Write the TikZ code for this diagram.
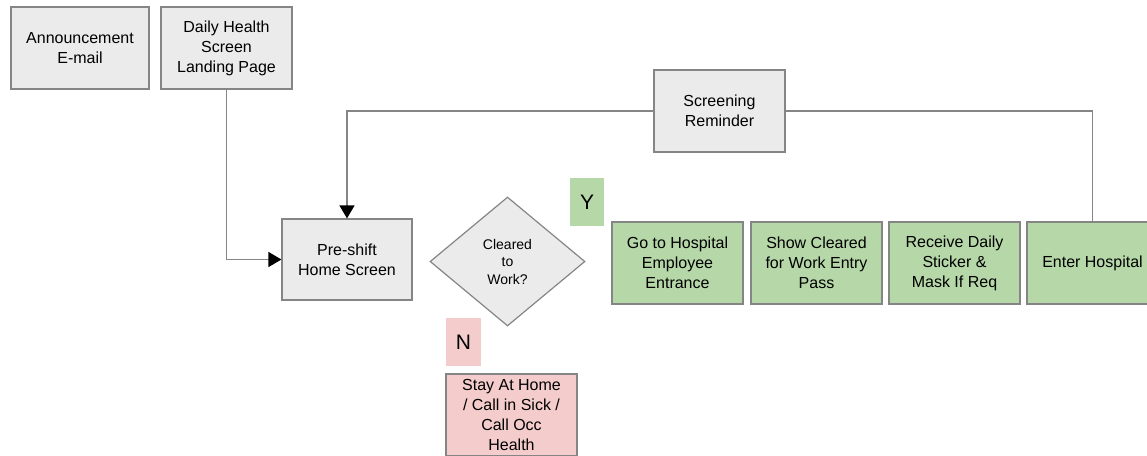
\documentclass[tikz,border=0pt]{standalone}
\usepackage{fontspec}
\setmainfont{Liberation Sans}
\usetikzlibrary{shapes.geometric,arrows.meta}

\definecolor{boxgray}{HTML}{EBEBEB}
\definecolor{edgegray}{HTML}{858585}
\definecolor{okgreen}{HTML}{B6D7A8}
\definecolor{nored}{HTML}{F4CCCC}

\begin{document}
\begin{tikzpicture}[x=1pt,y=1pt,
	stepbox/.style={draw=edgegray,line width=1.2pt,rectangle,fill=boxgray,minimum width=131pt,minimum height=82pt,inner sep=0pt,align=center,font=\fontsize{16}{20}\selectfont},
	okbox/.style={stepbox,fill=okgreen},
	nobox/.style={stepbox,fill=nored},
	tag/.style={rectangle,minimum width=34pt,minimum height=48pt,inner sep=0pt,font=\fontsize{21}{24}\selectfont},
	flow/.style={draw=edgegray,line width=1.3pt,->,>={Triangle[length=13pt,width=15pt,color=black]}}]
	\useasboundingbox (0,0) rectangle (1147,-455);
			\node[stepbox,minimum width=138pt] (mail)at(80,-48) {Announcement\\E-mail};
			\node[stepbox] (landing)at(226.5,-48) {Daily Health\\Screen\\Landing Page};
			\node[stepbox,minimum width=130pt,minimum height=81pt] (home)at(347,-259.5) {Pre-shift\\Home Screen};
			\node[stepbox] (remind)at(719.5,-111) {Screening\\Reminder};
			\node[draw=edgegray,line width=1.2pt,diamond,fill=boxgray,minimum width=155pt,minimum height=129pt,inner sep=0pt,align=center,font=\fontsize{14}{17.5}\selectfont] (cleared)at(507.5,-261.5) {Cleared\\to\\Work?};
			\node[tag,fill=okgreen] (yes)at(587,-202) {Y};
			\node[tag,fill=nored,minimum width=35pt] (no)at(463.5,-342) {N};
			\node[nobox] (home2)at(511.5,-415) {Stay At Home\\/ Call in Sick /\\Call Occ\\Health};
			\node[okbox] (entrance)at(677.5,-263) {Go to Hospital\\Employee\\Entrance};
			\node[okbox] (pass)at(816.5,-263) {Show Cleared\\for Work Entry\\Pass};
			\node[okbox] (sticker)at(954.5,-263) {Receive Daily\\Sticker \&\\Mask If Req};
			\node[okbox] (enter)at(1092.5,-263) {Enter Hospital};
			\draw[flow] (landing) |- (home);
			\draw[flow] (remind) -| (home);
			\draw[draw=edgegray,line width=1.3pt] (remind) -| (enter);
		\end{tikzpicture}
\end{document}
